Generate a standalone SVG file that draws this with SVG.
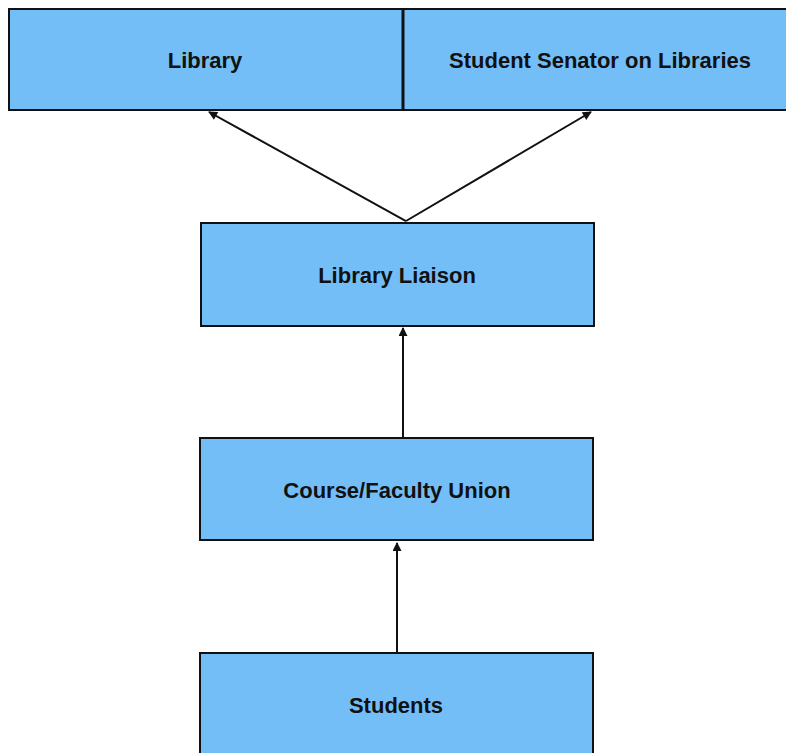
<svg xmlns="http://www.w3.org/2000/svg" width="786" height="753" viewBox="0 0 786 753">
<style>
.box{fill:#74bef8;stroke:#111;stroke-width:2}
.lbl{font-family:"Liberation Sans",Arial,sans-serif;font-size:22px;font-weight:bold;fill:#111;text-anchor:middle;dominant-baseline:central}
.conn{stroke:#111;stroke-width:2;fill:none}
</style>
<defs>
<marker id="ah" viewBox="0 0 10 10" refX="9" refY="5" markerWidth="11" markerHeight="9" markerUnits="userSpaceOnUse" orient="auto">
<path d="M0,0 L10,5 L0,10 z" fill="#111"/>
</marker>
</defs>
<rect width="786" height="753" fill="#fff"/>
<g id="library">
<rect class="box" x="9" y="9" width="394" height="101"/>
<text class="lbl" x="205" y="60">Library</text>
</g>
<g id="senator">
<rect class="box" x="403" y="9" width="390" height="101"/>
<line x1="403" y1="9" x2="403" y2="110" stroke="#111" stroke-width="3"/>
<text class="lbl" x="600" y="60">Student Senator on Libraries</text>
</g>
<g id="liaison">
<rect class="box" x="201" y="223" width="393" height="103"/>
<text class="lbl" x="397" y="275">Library Liaison</text>
</g>
<g id="union">
<rect class="box" x="200" y="438" width="393" height="102"/>
<text class="lbl" x="397" y="490">Course/Faculty Union</text>
</g>
<g id="students">
<rect class="box" x="200" y="653" width="393" height="110"/>
<text class="lbl" x="396" y="705">Students</text>
</g>
<g id="connectors">
<line class="conn" x1="406" y1="221" x2="209" y2="112" marker-end="url(#ah)" stroke-width="1.5"/>
<line class="conn" x1="406" y1="221" x2="591" y2="112" marker-end="url(#ah)" stroke-width="1.5"/>
<line class="conn" x1="403" y1="437" x2="403" y2="328" marker-end="url(#ah)"/>
<line class="conn" x1="397" y1="652" x2="397" y2="543" marker-end="url(#ah)"/>
</g>
</svg>
